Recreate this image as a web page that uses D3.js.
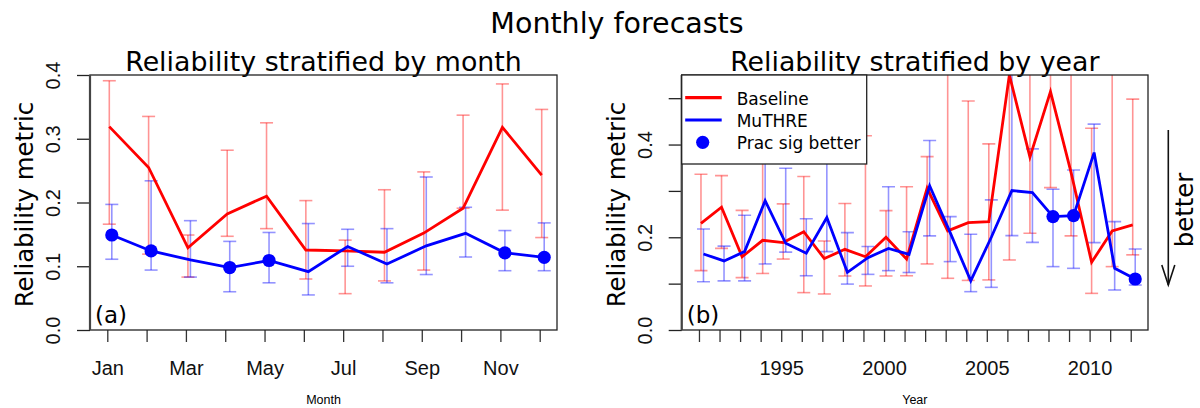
<!DOCTYPE html>
<html>
<head>
<meta charset="utf-8">
<script src="https://cdn.jsdelivr.net/npm/d3@7/dist/d3.min.js"></script>
<style>
  html, body { margin: 0; padding: 0; background: #fff; }
  svg { display: block; }
</style>
</head>
<body>
<svg id="chart" width="1200" height="408"></svg>
<script>
// ---- Panel (a): reliability by calendar month ----
const months = ["Jan","Feb","Mar","Apr","May","Jun","Jul","Aug","Sep","Oct","Nov","Dec"];
const monthNums = [1,2,3,4,5,6,7,8,9,10,11,12];
const monthBaseline   = [0.319, 0.255, 0.129, 0.182, 0.210, 0.1255, 0.124, 0.122, 0.152, 0.191, 0.318, 0.243];
const monthBaselineLo = [0.166, 0.119, 0.083, 0.147, 0.159, 0.080, 0.057, 0.077, 0.094, 0.191, 0.188, 0.145];
const monthBaselineHi = [0.391, 0.335, 0.149, 0.282, 0.325, 0.203, 0.141, 0.220, 0.248, 0.337, 0.386, 0.346];
const monthMuthre     = [0.149, 0.124, 0.110, 0.098, 0.109, 0.0915, 0.131, 0.1035, 0.132, 0.1516, 0.121, 0.114];
const monthMuthreLo   = [0.111, 0.094, 0.083, 0.060, 0.074, 0.055, 0.100, 0.074, 0.087, 0.1145, 0.093, 0.093];
const monthMuthreHi   = [0.197, 0.234, 0.1715, 0.139, 0.153, 0.167, 0.158, 0.159, 0.240, 0.1925, 0.156, 0.168];
const monthSigBetter  = [1, 1, 0, 1, 1, 0, 0, 0, 0, 0, 1, 1];
const monthTickLabels = ["Jan","","Mar","","May","","Jul","","Sep","","Nov",""];
const monthYTicks = [0.0, 0.1, 0.2, 0.3, 0.4];

// ---- Panel (b): reliability by year ----
const years = [1991,1992,1993,1994,1995,1996,1997,1998,1999,2000,2001,2002,2003,2004,2005,2006,2007,2008,2009,2010,2011,2012];
const yearBaseline   = [0.230, 0.265, 0.158, 0.1935, 0.1885, 0.212, 0.154, 0.174, 0.158, 0.200, 0.153, 0.306, 0.2137, 0.2316, 0.2338, 0.550, 0.3727, 0.514, 0.340, 0.146, 0.2137, 0.2266];
const yearBaselineLo = [0.128, 0.176, 0.113, 0.122, 0.153, 0.0806, 0.0777, 0.1165, 0.095, 0.1165, 0.117, 0.1425, 0.1115, 0.107, 0.108, 0.151, 0.2087, 0.307, 0.203, 0.079, 0.1367, 0.162];
const yearBaselineHi = [0.336, 0.333, 0.258, 0.520, 0.272, 0.331, 0.192, 0.273, 0.419, 0.2575, 0.309, 0.374, 0.600, 0.494, 0.4015, 0.700, 0.700, 0.700, 0.700, 0.435, 0.700, 0.498];
const yearMuthre     = [0.164, 0.149, 0.169, 0.279, 0.187, 0.1655, 0.2425, 0.1245, 0.156, 0.176, 0.163, 0.311, 0.210, 0.106, 0.200, 0.3007, 0.2964, 0.2446, 0.2468, 0.3827, 0.133, 0.110];
const yearMuthreLo   = [0.104, 0.106, 0.106, 0.1425, 0.168, 0.117, 0.169, 0.099, 0.120, 0.128, 0.124, 0.203, 0.1475, 0.0827, 0.092, 0.2035, 0.189, 0.1367, 0.133, 0.1885, 0.0863, 0.097];
const yearMuthreHi   = [0.218, 0.181, 0.2475, 0.450, 0.349, 0.240, 0.450, 0.210, 0.180, 0.309, 0.212, 0.4086, 0.2446, 0.2065, 0.2806, 0.600, 0.3907, 0.3036, 0.345, 0.444, 0.2338, 0.1748];
const yearSigBetter  = [0,0,0,0,0,0,0,0,0,0,0,0,0,0,0,0,0,1,1,0,0,1];
const yearTickLabels = years.map(y => (y % 5 === 0 ? String(y) : ""));
const yearYTicks = [0.0, 0.1, 0.2, 0.3, 0.4, 0.5];
const yearYLabels = ["0.0", "", "0.2", "", "0.4", ""];

const legendLabels = ["Baseline", "MuTHRE", "Prac sig better"];

// ---- styling ----
const RED = "#ff0000", BLUE = "#0000ff";
const TICK_FONT = "'Liberation Sans', Arial, sans-serif";
const TEXT_FONT = "'DejaVu Sans', Verdana, sans-serif";

const svg = d3.select("#chart");

svg.append("text")
  .attr("x", 617).attr("y", 33)
  .attr("text-anchor", "middle")
  .style("font-family", TEXT_FONT).style("font-size", "28.5px")
  .text("Monthly forecasts");

function buildPanel(cfg) {
  const x = d3.scaleLinear().domain(cfg.xDomain).range([cfg.left, cfg.right]);
  const y = d3.scaleLinear().domain(cfg.yDomain).range([cfg.bottom, cfg.top]);
  const g = svg.append("g");

  const clipId = "clip-" + cfg.id;
  svg.append("clipPath").attr("id", clipId)
    .append("rect")
    .attr("x", cfg.left).attr("y", cfg.top)
    .attr("width", cfg.right - cfg.left).attr("height", cfg.bottom - cfg.top);

  // panel title
  g.append("text")
    .attr("x", (cfg.left + cfg.right) / 2).attr("y", 71)
    .attr("text-anchor", "middle")
    .style("font-family", TEXT_FONT).style("font-size", "26.8px")
    .text(cfg.title);

  const plot = g.append("g").attr("clip-path", `url(#${clipId})`);

  const series = [
    { vals: cfg.base, lo: cfg.baseLo, hi: cfg.baseHi, color: RED, dx: 2 },
    { vals: cfg.mu, lo: cfg.muLo, hi: cfg.muHi, color: BLUE, dx: 4.5 }
  ];
  const capHalf = 6.5;

  // uncertainty whiskers
  series.forEach(s => {
    const bars = plot.append("g")
      .attr("stroke", s.color).attr("stroke-opacity", 0.42).attr("stroke-width", 1.6)
      .attr("fill", "none");
    cfg.xs.forEach((xv, i) => {
      const cx = x(xv) + s.dx;
      bars.append("line").attr("x1", cx).attr("x2", cx)
        .attr("y1", y(s.lo[i])).attr("y2", y(s.hi[i]));
      [s.lo[i], s.hi[i]].forEach(v => {
        bars.append("line")
          .attr("x1", cx - capHalf).attr("x2", cx + capHalf)
          .attr("y1", y(v)).attr("y2", y(v));
      });
    });
  });

  // series lines
  series.forEach(s => {
    const line = d3.line().x((d, i) => x(cfg.xs[i]) + s.dx).y(d => y(d));
    plot.append("path").datum(s.vals)
      .attr("d", line)
      .attr("fill", "none").attr("stroke", s.color)
      .attr("stroke-width", 2.8).attr("stroke-linejoin", "miter");
  });

  // practically significant improvements
  plot.selectAll("circle.sig")
    .data(cfg.xs.map((xv, i) => ({ xv, v: cfg.mu[i], s: cfg.sig[i] })).filter(d => d.s))
    .join("circle")
    .attr("cx", d => x(d.xv) + 4.5).attr("cy", d => y(d.v))
    .attr("r", 6.6).attr("fill", BLUE);

  // y axis
  const yAxis = d3.axisLeft(y).tickValues(cfg.yTicks).tickSize(13).tickSizeOuter(0)
    .tickFormat((d, i) => cfg.yLabels[i]);
  const ya = g.append("g").attr("transform", `translate(${cfg.left},0)`).call(yAxis);
  ya.select(".domain").remove();
  ya.selectAll(".tick line").attr("stroke", "#222").attr("stroke-width", 1.3);
  ya.selectAll(".tick text")
    .attr("transform", "rotate(-90)")
    .attr("x", 0).attr("y", -30).attr("dy", 0)
    .attr("text-anchor", "middle")
    .attr("fill", "#111")
    .style("font-family", TICK_FONT).style("font-size", "20px");

  // x axis
  const xAxis = d3.axisBottom(x).tickValues(cfg.xs).tickSize(12).tickSizeOuter(0)
    .tickFormat((d, i) => cfg.xLabels[i]);
  const xa = g.append("g").attr("transform", `translate(0,${cfg.bottom})`).call(xAxis);
  xa.select(".domain").remove();
  xa.selectAll(".tick line").attr("stroke", "#333").attr("stroke-width", 1.3);
  xa.selectAll(".tick text")
    .attr("y", 45).attr("dy", 0)
    .attr("fill", "#111")
    .style("font-family", TICK_FONT).style("font-size", "20px");

  // frame
  g.append("rect")
    .attr("x", cfg.left).attr("y", cfg.top)
    .attr("width", cfg.right - cfg.left).attr("height", cfg.bottom - cfg.top)
    .attr("fill", "none").attr("stroke", "#222").attr("stroke-width", 1.3);
  g.append("line")
    .attr("x1", cfg.left).attr("x2", cfg.left)
    .attr("y1", cfg.top).attr("y2", cfg.bottom)
    .attr("stroke", "#444").attr("stroke-width", 2.2);

  // axis titles
  g.append("text")
    .attr("transform", `translate(${cfg.left - 57},${(cfg.top + cfg.bottom) / 2 + 2}) rotate(-90)`)
    .attr("text-anchor", "middle")
    .style("font-family", TEXT_FONT).style("font-size", "24.4px")
    .text("Reliability metric");
  g.append("text")
    .attr("x", (cfg.left + cfg.right) / 2).attr("y", 404)
    .attr("text-anchor", "middle")
    .style("font-family", TICK_FONT).style("font-size", "12.5px")
    .text(cfg.xTitle);

  // panel tag
  g.append("text")
    .attr("x", cfg.left + 5).attr("y", 323)
    .style("font-family", TEXT_FONT).style("font-size", "23px")
    .text(cfg.tag);

  return { x, y, g };
}

buildPanel({
  id: "month", title: "Reliability stratified by month", tag: "(a)", xTitle: "Month",
  left: 90, right: 557, top: 75, bottom: 330,
  xDomain: [0.56, 12.44], yDomain: [0, 0.4],
  xs: monthNums, xLabels: monthTickLabels,
  yTicks: monthYTicks, yLabels: monthYTicks.map(v => v.toFixed(1)),
  base: monthBaseline, baseLo: monthBaselineLo, baseHi: monthBaselineHi,
  mu: monthMuthre, muLo: monthMuthreLo, muHi: monthMuthreHi, sig: monthSigBetter
});

const pb = buildPanel({
  id: "year", title: "Reliability stratified by year", tag: "(b)", xTitle: "Year",
  left: 681.7, right: 1148, top: 75, bottom: 330,
  xDomain: [1990.16, 2012.84], yDomain: [0, 0.55],
  xs: years, xLabels: yearTickLabels,
  yTicks: yearYTicks, yLabels: yearYLabels,
  base: yearBaseline, baseLo: yearBaselineLo, baseHi: yearBaselineHi,
  mu: yearMuthre, muLo: yearMuthreLo, muHi: yearMuthreHi, sig: yearSigBetter
});

// legend in panel (b)
const lg = pb.g.append("g").attr("transform", "translate(681.7,75)");
lg.append("rect").attr("x", 0).attr("y", 0).attr("width", 185).attr("height", 89)
  .attr("fill", "#fff").attr("stroke", "#222").attr("stroke-width", 1.3);
const legendRows = [
  { label: legendLabels[0], kind: "line", color: RED },
  { label: legendLabels[1], kind: "line", color: BLUE },
  { label: legendLabels[2], kind: "dot", color: BLUE }
];
legendRows.forEach((r, i) => {
  const cy = 22.7 + i * 22.3;
  if (r.kind === "line") {
    lg.append("line").attr("x1", 3.5).attr("x2", 40).attr("y1", cy).attr("y2", cy)
      .attr("stroke", r.color).attr("stroke-width", 3.2);
  } else {
    lg.append("circle").attr("cx", 21).attr("cy", cy).attr("r", 6.6).attr("fill", r.color);
  }
  lg.append("text").attr("x", 55).attr("y", cy + 7)
    .style("font-family", TEXT_FONT).style("font-size", "17px")
    .text(r.label);
});

// "better" direction marker
const arrowX = 1168.3;
svg.append("line").attr("x1", arrowX).attr("x2", arrowX).attr("y1", 130).attr("y2", 285)
  .attr("stroke", "#111").attr("stroke-width", 1.6);
svg.append("path")
  .attr("d", `M${arrowX - 6.5},${265} L${arrowX},${285} L${arrowX + 6.5},${265}`)
  .attr("fill", "none").attr("stroke", "#111").attr("stroke-width", 1.6);
svg.append("text")
  .attr("transform", "translate(1193,210) rotate(-90)")
  .attr("text-anchor", "middle")
  .style("font-family", TEXT_FONT).style("font-size", "24.4px")
  .text("better");
</script>
</body>
</html>
